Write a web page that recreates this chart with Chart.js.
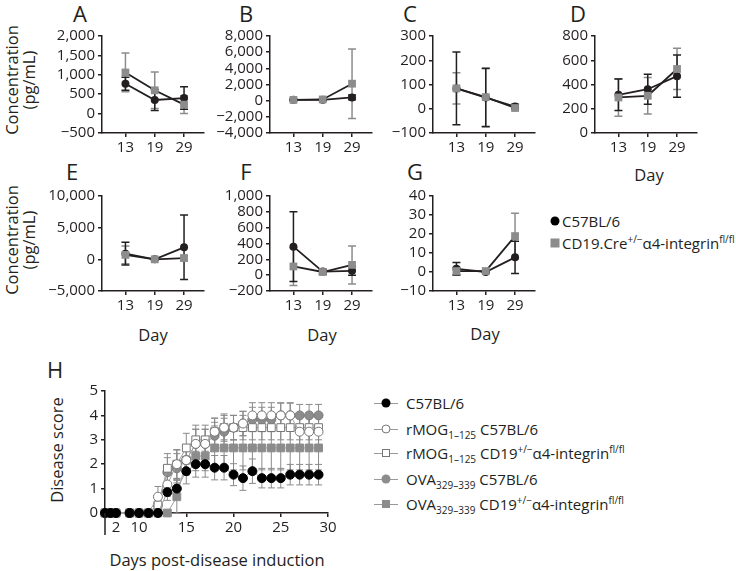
<!DOCTYPE html>
<html>
<head>
<meta charset="utf-8">
<script src="https://cdn.jsdelivr.net/npm/chart.js@4.4.0/dist/chart.umd.min.js"></script>
<style>
  body { margin: 0; width: 736px; height: 571px; position: relative; background: #fff; overflow: hidden;
         font-family: 'Open Sans', sans-serif; color: #231f20; }
  canvas { position: absolute; }
  .lbl { position: absolute; white-space: nowrap; line-height: 1; transform: translate(-50%, -50%); }
  .letter { font-size: 22px; }
  .title { font-size: 16.5px; }
  .rot { transform: translate(-50%, -50%) rotate(-90deg); text-align: center; line-height: 1.05; }
  .leg { position: absolute; white-space: nowrap; font-size: 15px; line-height: 1; transform: translateY(-50%); }
  .leg sub, .leg sup { font-size: 10px; line-height: 0; }
  .mk { position: absolute; transform: translate(-50%, -50%); box-sizing: border-box; }
  .ln { position: absolute; height: 1px; background: #999; }
</style>
</head>
<body>

<div class="lbl letter" style="left:80px;top:13px">A</div>
<div class="lbl letter" style="left:246px;top:13px">B</div>
<div class="lbl letter" style="left:410px;top:13px">C</div>
<div class="lbl letter" style="left:578px;top:13px">D</div>
<div class="lbl letter" style="left:72px;top:171px">E</div>
<div class="lbl letter" style="left:246px;top:171px">F</div>
<div class="lbl letter" style="left:415px;top:171px">G</div>
<div class="lbl letter" style="left:55px;top:369px">H</div>

<div class="lbl title rot" style="left:20px;top:80px">Concentration<br>(pg/mL)</div>
<div class="lbl title rot" style="left:20px;top:240px">Concentration<br>(pg/mL)</div>
<div class="lbl title" style="left:649px;top:175px">Day</div>
<div class="lbl title" style="left:153px;top:335px">Day</div>
<div class="lbl title" style="left:322px;top:335px">Day</div>
<div class="lbl title" style="left:485px;top:334px">Day</div>
<div class="lbl title rot" style="left:57px;top:450px">Disease score</div>
<div class="lbl title" style="left:217px;top:560px">Days post-disease induction</div>

<!-- legend for panels E-G -->
<div class="mk" style="left:555px;top:221px;width:9px;height:9px;border-radius:50%;background:#000"></div>
<div class="leg" style="left:562px;top:221px">C57BL/6</div>
<div class="mk" style="left:555px;top:243px;width:9px;height:9px;background:#8c8c8c"></div>
<div class="leg" style="left:562px;top:243px">CD19.Cre<sup>+/−</sup>α4-integrin<sup>fl/fl</sup></div>

<!-- legend for panel H -->
<div class="ln" style="left:374px;top:403px;width:24px"></div>
<div class="mk" style="left:386px;top:403px;width:9px;height:9px;border-radius:50%;background:#000"></div>
<div class="leg" style="left:406px;top:403px">C57BL/6</div>
<div class="ln" style="left:374px;top:429px;width:24px"></div>
<div class="mk" style="left:386px;top:429px;width:9px;height:9px;border-radius:50%;background:#fff;border:1px solid #777"></div>
<div class="leg" style="left:406px;top:429px">rMOG<sub>1–125</sub> C57BL/6</div>
<div class="ln" style="left:374px;top:453px;width:24px"></div>
<div class="mk" style="left:386px;top:453px;width:8px;height:8px;background:#fff;border:1px solid #777"></div>
<div class="leg" style="left:406px;top:453px">rMOG<sub>1–125</sub> CD19<sup>+/−</sup>α4-integrin<sup>fl/fl</sup></div>
<div class="ln" style="left:374px;top:479px;width:24px"></div>
<div class="mk" style="left:386px;top:479px;width:9px;height:9px;border-radius:50%;background:#8c8c8c"></div>
<div class="leg" style="left:406px;top:479px">OVA<sub>329–339</sub> C57BL/6</div>
<div class="ln" style="left:374px;top:504px;width:24px"></div>
<div class="mk" style="left:386px;top:504px;width:8px;height:8px;background:#8c8c8c"></div>
<div class="leg" style="left:406px;top:504px">OVA<sub>329–339</sub> CD19<sup>+/−</sup>α4-integrin<sup>fl/fl</sup></div>

<script>
// ============================
// Data (panels A-G: mean and error per sampling day)
// ============================
const dayLabels = ['13', '19', '29'];

const aWt = [770, 350, 400],   aWtErr = [170, 270, 290];
const aKo = [1060, 600, 230],  aKoErr = [500, 470, 230];
const bWt = [100, 100, 400],   bWtErr = [80, 80, 300];
const bKo = [100, 150, 2100],  bKoErr = [80, 100, 4300];
const cWt = [84, 46, 9],       cWtErr = [150, 120, 10];
const cKo = [84, 48, 3],       cKoErr = [64, 120, 5];
const dWt = [315, 361, 469],   dWtErr = [130, 123, 175];
const dKo = [293, 307, 528],   dKoErr = [155, 150, 170];
const eWt = [900, 0, 1900],    eWtErr = [1800, 60, 5100];
const eKo = [700, 0, 200],     eKoErr = [1400, 60, 400];
const fWt = [360, 45, 55],     fWtErr = [440, 30, 55];
const fKo = [110, 40, 130],    fKoErr = [240, 30, 240];
const gWt = [1.7, 0, 7.7],     gWtErr = [3.3, 0.3, 8.5];
const gKo = [0.5, 0.5, 18.9],  gKoErr = [2, 0.3, 12];

// ============================
// Data (panel H: disease score)
// ============================
const hDays = [0, 1, 2, 9, 10, 11, 12, 13, 14, 15, 16, 17, 18, 19, 20, 21, 22, 23, 24, 25, 26, 27, 28, 29];
const hTicks = [2, 10, 15, 20, 25, 30];

const hB6     = [0, 0, 0, 0, 0, 0, 0, 0.857, 1.0, 1.714, 2.0, 2.0, 1.857, 1.857, 1.571, 1.429, 1.714, 1.429, 1.429, 1.429, 1.571, 1.571, 1.571, 1.571];
const hB6Err  = [0, 0, 0, 0, 0, 0, 0, 0.34, 0.38, 0.52, 0.53, 0.53, 0.5, 0.5, 0.45, 0.5, 0.5, 0.4, 0.4, 0.4, 0.42, 0.42, 0.42, 0.42];
const hMogB6    = [0, 0, 0, 0, 0, 0, 0.667, 1.167, 2.0, 2.167, 2.833, 2.833, 3.333, 3.5, 3.5, 3.667, 4.0, 4.0, 4.0, 4.0, 4.0, 3.333, 3.333, 3.333];
const hMogB6Err = [0, 0, 0, 0, 0, 0, 0.42, 0.48, 0.58, 0.6, 0.6, 0.6, 0.56, 0.56, 0.5, 0.5, 0.52, 0.52, 0.52, 0.52, 0.52, 0.6, 0.6, 0.6];
const hMogKo    = [0, 0, 0, 0, 0, 0, 0.333, 1.833, 2.0, 2.667, 3.0, 3.0, 3.333, 3.5, 3.5, 3.5, 3.5, 3.5, 3.5, 3.5, 3.5, 3.5, 3.5, 3.5];
const hMogKoErr = [0, 0, 0, 0, 0, 0, 0.33, 0.6, 0.6, 0.6, 0.6, 0.6, 0.55, 0.5, 0.5, 0.5, 0.5, 0.5, 0.5, 0.5, 0.5, 0.5, 0.5, 0.5];
const hOvaB6    = [0, 0, 0, 0, 0, 0, 0.333, 1.667, 1.833, 2.167, 2.833, 2.833, 3.167, 3.333, 3.5, 3.667, 3.833, 3.833, 3.833, 4.0, 4.0, 4.0, 4.0, 4.0];
const hOvaB6Err = [0, 0, 0, 0, 0, 0, 0.33, 0.6, 0.6, 0.6, 0.6, 0.6, 0.55, 0.55, 0.5, 0.5, 0.5, 0.5, 0.5, 0.5, 0.5, 0.45, 0.45, 0.45];
const hOvaKo    = [0, 0, 0, 0, 0, 0, 0, 0, 0.667, 2.167, 2.333, 2.333, 2.667, 2.667, 2.667, 2.667, 2.667, 2.667, 2.667, 2.667, 2.667, 2.667, 2.667, 2.667];
const hOvaKoErr = [0, 0, 0, 0, 0, 0, 0, 0, 0.67, 0.6, 0.6, 0.6, 0.9, 0.9, 0.9, 0.9, 0.9, 0.9, 0.9, 0.9, 0.9, 0.9, 0.9, 0.9];

// ============================
// Chart.js defaults
// ============================
const INK  = '#231f20';
const GREY = '#8c8c8c';
Chart.defaults.font.family = "'Open Sans', sans-serif";
Chart.defaults.font.size = 15;
Chart.defaults.color = INK;
Chart.defaults.animation = false;
Chart.defaults.events = [];
Chart.defaults.plugins.legend.display = false;
Chart.defaults.plugins.tooltip.enabled = false;

// Error bars, drawn behind the symbols
const errorBars = {
    id: 'errorBars',
    beforeDatasetsDraw(chart) {
        const ctx = chart.ctx;
        const y = chart.scales.y;
        chart.data.datasets.forEach((ds, i) => {
            if (!ds.errors) return;
            const meta = chart.getDatasetMeta(i);
            ctx.save();
            ctx.strokeStyle = ds.errorColor;
            ctx.lineWidth = ds.errorWidth;
            meta.data.forEach((pt, j) => {
                const e = ds.errors[j];
                if (!e) return;
                const v = ds.data[j].y;
                const top = y.getPixelForValue(v + e);
                const bot = y.getPixelForValue(v - e);
                const c = ds.capWidth / 2;
                ctx.beginPath();
                ctx.moveTo(pt.x, top); ctx.lineTo(pt.x, bot);
                ctx.moveTo(pt.x - c, top); ctx.lineTo(pt.x + c, top);
                ctx.moveTo(pt.x - c, bot); ctx.lineTo(pt.x + c, bot);
                ctx.stroke();
            });
            ctx.restore();
        });
    }
};

function fmt(v) {
    const s = Math.abs(v).toLocaleString('en-US');
    return v < 0 ? '\u2212' + s : s;
}

function axisLook() {
    return {
        border: { display: true, color: INK, width: 1.5 },
        grid: { display: true, drawOnChartArea: false, drawTicks: true, tickLength: 4, color: INK, lineWidth: 1.5 }
    };
}

function makeCanvas(left, top, w, h) {
    const c = document.createElement('canvas');
    c.width = w; c.height = h;
    c.style.left = left + 'px'; c.style.top = top + 'px';
    c.style.width = w + 'px'; c.style.height = h + 'px';
    document.body.appendChild(c);
    return c;
}

// ============================
// Panels A-G
// ============================
const YW = 70, PW = 102;
function smallPanel(x0, top, ph, yMin, yMax, step, wt, wtErr, ko, koErr) {
    const cv = makeCanvas(x0 - YW, top - 10, YW + PW + 12, ph + 40);
    const pts = (arr) => arr.map((v, i) => ({ x: i + 1, y: v }));
    return new Chart(cv.getContext('2d'), {
        type: 'line',
        data: {
            datasets: [
                {
                    data: pts(ko), errors: koErr, errorColor: GREY, errorWidth: 1.5, capWidth: 8,
                    borderColor: INK, borderWidth: 1.8, pointStyle: 'rect', pointRadius: 5.5,
                    pointBackgroundColor: GREY, pointBorderColor: GREY, pointBorderWidth: 0, order: 0, clip: false
                },
                {
                    data: pts(wt), errors: wtErr, errorColor: INK, errorWidth: 1.5, capWidth: 8,
                    borderColor: INK, borderWidth: 1.8, pointStyle: 'circle', pointRadius: 4,
                    pointBackgroundColor: INK, pointBorderColor: INK, pointBorderWidth: 0, order: 1, clip: false
                }
            ]
        },
        options: {
            responsive: false,
            layout: { padding: { left: 0, top: 10, right: 12, bottom: 0 } },
            scales: {
                x: Object.assign(axisLook(), {
                    type: 'linear', min: 0.2, max: 0.2 + PW / 29.3,
                    afterBuildTicks: (s) => { s.ticks = dayLabels.map((d, i) => ({ value: i + 1 })); },
                    afterFit: (s) => { s.height = 30; },
                    ticks: { padding: 2, maxRotation: 0, autoSkip: false, callback: (v) => dayLabels[v - 1] }
                }),
                y: Object.assign(axisLook(), {
                    min: yMin, max: yMax,
                    afterFit: (s) => { s.width = YW; },
                    ticks: { stepSize: step, padding: 3, autoSkip: false, callback: fmt }
                })
            }
        },
        plugins: [errorBars]
    });
}

smallPanel(102, 34, 99, -500, 2000, 500, aWt, aWtErr, aKo, aKoErr);
smallPanel(270, 34, 99, -4000, 8000, 2000, bWt, bWtErr, bKo, bKoErr);
smallPanel(433, 34, 99, -100, 300, 100, cWt, cWtErr, cKo, cKoErr);
smallPanel(595, 34, 99, 0, 800, 200, dWt, dWtErr, dKo, dKoErr);
smallPanel(102, 194, 97, -5000, 10000, 5000, eWt, eWtErr, eKo, eKoErr);
smallPanel(270, 194, 97, -200, 1000, 200, fWt, fWtErr, fKo, fKoErr);
smallPanel(433, 194, 97, -10, 40, 10, gWt, gWtErr, gKo, gKoErr);

// ============================
// Panel H: broken x axis (days 0-2 squeezed, gap, then 9-30)
// ============================
const knots = [[0, 0], [2, 0.0493], [9, 0.1103], [30, 1]];
function dayToFrac(d) {
    for (let k = 1; k < knots.length; k++) {
        const [d0, f0] = knots[k - 1], [d1, f1] = knots[k];
        if (d <= d1 || k === knots.length - 1) return f0 + (d - d0) / (d1 - d0) * (f1 - f0);
    }
}
function fracToDay(f) {
    for (let k = 1; k < knots.length; k++) {
        const [d0, f0] = knots[k - 1], [d1, f1] = knots[k];
        if (f <= f1 || k === knots.length - 1) return d0 + (f - f0) / (f1 - f0) * (d1 - d0);
    }
}
class BrokenScale extends Chart.LinearScale {
    getPixelForValue(v) { return this.getPixelForDecimal(dayToFrac(v)); }
    getValueForPixel(p) { return fracToDay(this.getDecimalForPixel(p)); }
}
BrokenScale.id = 'broken';
BrokenScale.defaults = Chart.LinearScale.defaults;
Chart.register(BrokenScale);

const axisTail = {
    id: 'axisTail',
    afterDraw(chart) {
        const { ctx, chartArea } = chart;
        ctx.save();
        ctx.strokeStyle = INK;
        ctx.lineWidth = 1.5;
        ctx.beginPath();
        ctx.moveTo(chartArea.left, chartArea.bottom);
        ctx.lineTo(chartArea.left, chartArea.bottom + 22);
        ctx.stroke();
        ctx.restore();
    }
};

const hPW = 223, hPH = 124;
const hCanvas = makeCanvas(105 - YW, 389 - 10, YW + hPW + 14, hPH + 40);
const hPts = (arr) => hDays.map((d, i) => ({ x: d, y: arr[i] }));
function hSet(vals, errs, style, fill, border, radius) {
    return {
        data: hPts(vals), errors: errs, errorColor: '#8a8a8a', errorWidth: 1, capWidth: 7,
        borderColor: '#a0a0a0', borderWidth: 1, pointStyle: style, pointRadius: radius,
        pointBackgroundColor: fill, pointBorderColor: border, pointBorderWidth: 1, clip: false
    };
}
new Chart(hCanvas.getContext('2d'), {
    type: 'line',
    data: {
        datasets: [
            hSet(hB6, hB6Err, 'circle', '#000', '#000', 4.5),
            hSet(hMogB6, hMogB6Err, 'circle', '#fff', '#777', 4.5),
            hSet(hMogKo, hMogKoErr, 'rect', '#fff', '#777', 5.5),
            hSet(hOvaB6, hOvaB6Err, 'circle', GREY, '#7a7a7a', 4.5),
            hSet(hOvaKo, hOvaKoErr, 'rect', GREY, GREY, 5.5)
        ]
    },
    options: {
        responsive: false,
        layout: { padding: { left: 0, top: 10, right: 14, bottom: 0 } },
        scales: {
            x: Object.assign(axisLook(), {
                type: 'broken', min: 0, max: 30,
                afterBuildTicks: (s) => { s.ticks = hTicks.map((v) => ({ value: v })); },
                afterFit: (s) => { s.height = 30; },
                ticks: { padding: 2, maxRotation: 0, autoSkip: false }
            }),
            y: Object.assign(axisLook(), {
                min: 0, max: 5,
                afterFit: (s) => { s.width = YW; },
                ticks: { stepSize: 1, padding: 3, autoSkip: false }
            })
        }
    },
    plugins: [errorBars, axisTail]
});
</script>
</body>
</html>
